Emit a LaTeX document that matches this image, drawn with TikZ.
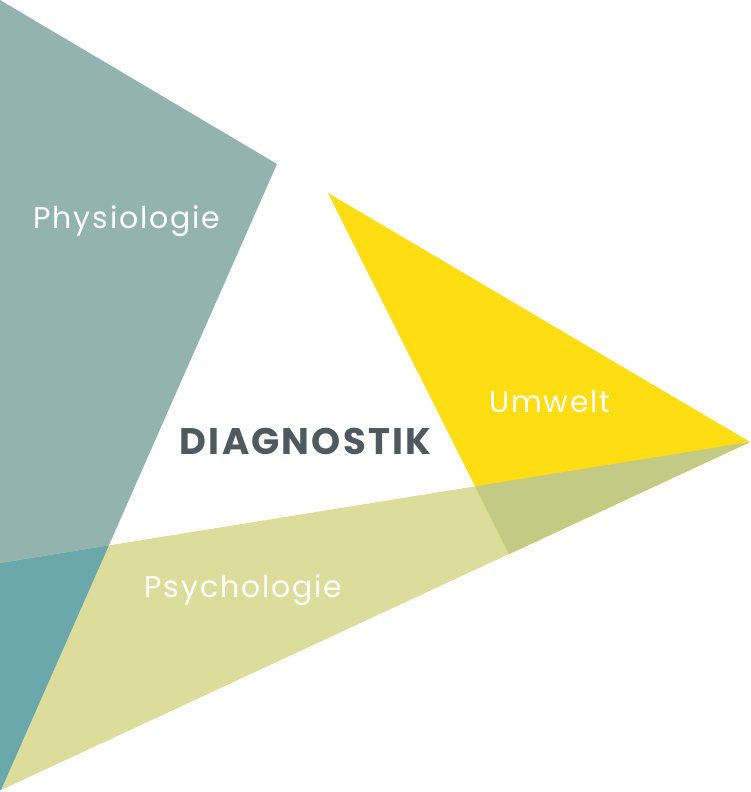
\documentclass[tikz,border=0pt]{standalone}
\usepackage{fontspec}
\setmainfont{Poppins}
\definecolor{physio}{HTML}{93B4AE}
\definecolor{physiopsych}{HTML}{6BA8AC}
\definecolor{psych}{HTML}{DCDC9B}
\definecolor{umwelt}{HTML}{FEDD13}
\definecolor{umweltpsych}{HTML}{C3CA83}
\definecolor{diagtext}{HTML}{4F5A5E}
\tikzset{
  lbl/.style={text=white, anchor=base, inner sep=0pt, font=\fontsize{30}{30}\selectfont\addfontfeatures{LetterSpace=6}},
  mainlbl/.style={text=diagtext, anchor=base, inner sep=0pt, font=\fontsize{37}{37}\selectfont\bfseries\addfontfeatures{LetterSpace=6}}
}
\begin{document}
\begin{tikzpicture}[x=1pt,y=-1pt]
\useasboundingbox (0,0) rectangle (750,792);
\def\physiopath{(0,0) -- (277,164) -- (1,790) -- (0,790) -- cycle}
\def\psychpath{(0,563) -- (750,442) -- (1,790) -- (0,790) -- cycle}
\def\umweltpath{(328,193) -- (750,442) -- (509,554) -- cycle}
\fill[physio] \physiopath;
\fill[psych] \psychpath;
\begin{scope}
  \clip \physiopath;
  \fill[physiopsych] \psychpath;
\end{scope}
\fill[umwelt] \umweltpath;
\begin{scope}
  \clip \umweltpath;
  \fill[umweltpsych] \psychpath;
\end{scope}
\node[lbl] (physiolabel) at (127,228) {Physiologie};
\node[lbl] (psychlabel) at (243.5,597) {Psychologie};
\node[lbl] (umweltlabel) at (550,412) {Umwelt};
\node[mainlbl] (diag) at (305.5,454) {DIAGNOSTIK};
\end{tikzpicture}
\end{document}
